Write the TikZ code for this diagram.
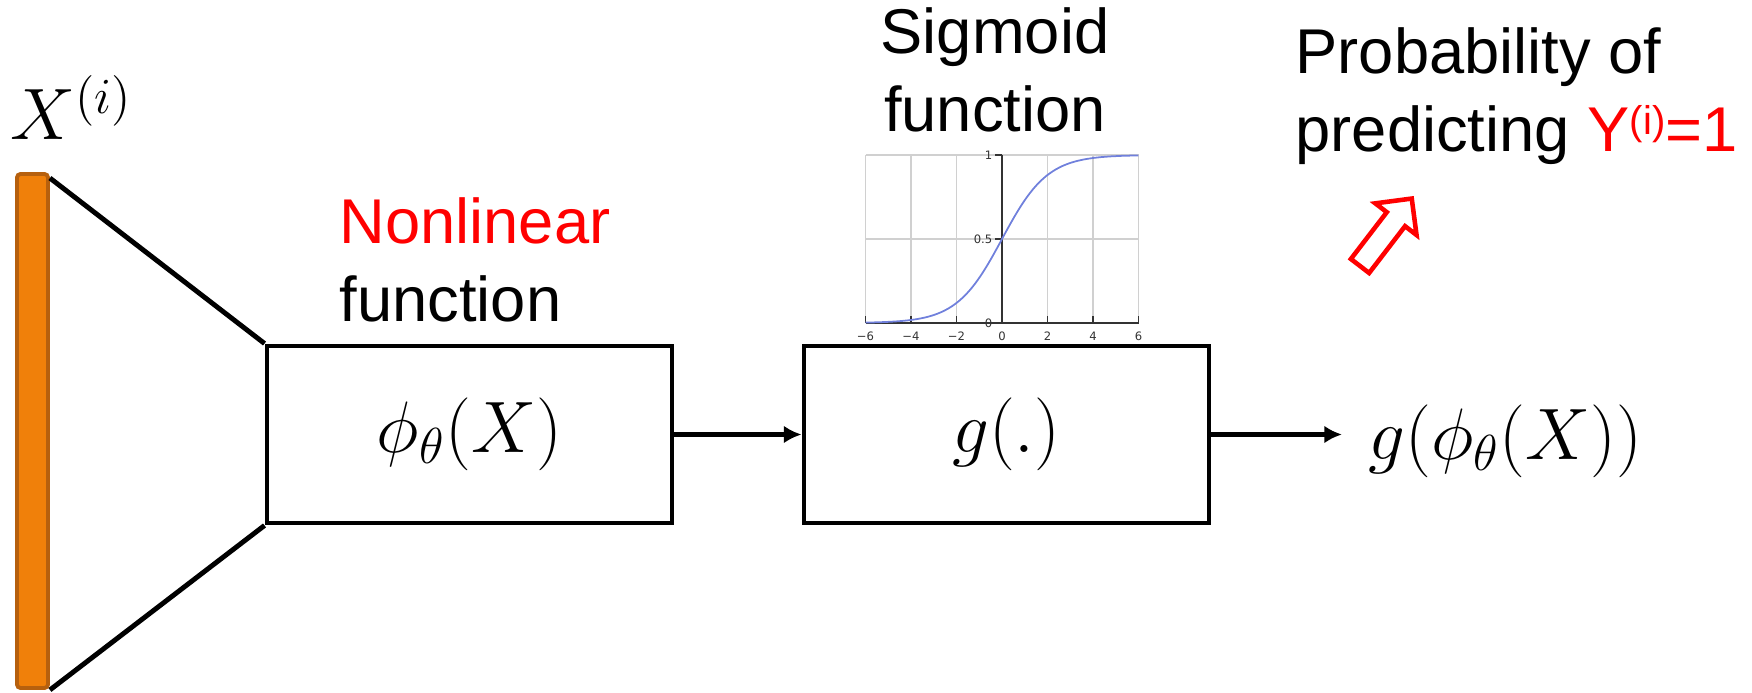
\documentclass[tikz,border=0pt]{standalone}
\usepackage[no-math]{fontspec}
\setmainfont{Liberation Sans}
\newfontfamily\plotfont{DejaVu Sans}
\usetikzlibrary{arrows.meta}

\definecolor{barfill}{RGB}{240,128,10}
\definecolor{barline}{RGB}{182,96,14}
\definecolor{curveblue}{RGB}{112,128,220}
\definecolor{gridgray}{RGB}{208,208,208}

\begin{document}
\begin{tikzpicture}[
	block/.style={draw, line width=1.4pt, minimum width=4.05cm, minimum height=1.77cm, inner sep=0pt, font=\fontsize{20}{24}\selectfont},
	flow/.style={-{Latex[length=5pt, width=5pt]}, line width=1.4pt},
	caption/.style={inner sep=0pt, align=left, font=\fontsize{18}{22.2}\selectfont},
	sggrid/.style={gridgray, line width=0.35pt},
	sgaxis/.style={black!80, line width=0.45pt},
	sglabel/.style={inner sep=0pt, font=\plotfont\fontsize{3.3}{4}\selectfont, text=black!80},
]
	\useasboundingbox (0, 0) rectangle (17.52, 6.93);

	%% input vector
	\node[draw=barline, fill=barfill, line width=1.1pt, rounded corners=1pt, minimum width=0.31cm, minimum height=5.14cm, inner sep=0pt] (bar) at (0.325, 2.62) {};
	\node[anchor=base west, inner sep=0pt, font=\fontsize{20}{24}\selectfont] (xin) at (0.10, 5.53) {$X^{(i)}$};

	%% blocks
	\node[block] (phi) at (4.695, 2.585) {$\phi_\theta(X)$};
	\node[block] (sig) at (10.065, 2.585) {$g(.)$};
	\node[anchor=base west, inner xsep=0.26cm, inner ysep=0pt, font=\fontsize{20}{24}\selectfont] (out) at (13.42, 2.33) {$g(\phi_\theta(X))$};

	%% connectors
	\draw[line width=1.4pt] ([yshift=-0.06cm]bar.north east) -- (phi.north west);
	\draw[line width=1.4pt] (bar.south east) -- (phi.south west);
	\draw[flow] (phi) -- (sig);
	\draw[flow] (sig.east) -- (sig.east -| out.west);

	%% captions (base = last line)
	\node[caption, anchor=base west] (nonlin) at (3.39, 3.71) {\textcolor{red}{Nonlinear}\\function};
	\node[caption, anchor=base, align=center] (sigtext) at (9.95, 5.61) {Sigmoid\\function};
	\node[caption, anchor=base west] (prob) at (12.95, 5.41) {Probability of\\predicting \textcolor{red}{Y\raisebox{5pt}{\fontsize{11.4}{12}\selectfont(i)}=1}};

	%% sigmoid plot
	\begin{scope}[shift={(10.02, 3.70)}, x=0.2275cm, y=1.68cm]
		\foreach \gx in {-6, -4, -2, 2, 4, 6}
			\draw[sggrid] (\gx, 0) -- (\gx, 1);
		\draw[sggrid] (-6, 0.5) -- (6, 0.5);
		\draw[sggrid] (-6, 1) -- (6, 1);
		\draw[sgaxis] (-6, 0) -- (6, 0);
		\draw[sgaxis] (0, 0) -- (0, 1);
		\foreach \gx/\gl [count=\gi] in {-6/−6, -4/−4, -2/−2, 0/0, 2/2, 4/4, 6/6} {
			\draw[sgaxis] (\gx, 0) -- ++(0, 0.07cm);
			\node[sglabel, anchor=north] (xl\gi) at ([yshift=-0.08cm]\gx, 0) {\gl};
		}
		\foreach \gy/\gl [count=\gi] in {0/0, 0.5/0.5, 1/1} {
			\draw[sgaxis] (0, \gy) -- ++(-0.07cm, 0);
			\node[sglabel, anchor=east] (yl\gi) at ([xshift=-0.09cm]0, \gy) {\gl};
		}
		\draw[curveblue, line width=0.5pt, domain=-6:6, samples=80, smooth] plot (\x, {1/(1+exp(-\x))});
	\end{scope}

	%% hollow arrow
	\begin{scope}[shift={(13.60, 4.27)}, rotate=52.5]
		\draw[red, line width=1.3pt] (0, -0.115) -- (0.59, -0.115) -- (0.59, -0.26) -- (0.85, 0) -- (0.59, 0.26) -- (0.59, 0.115) -- (0, 0.115) -- cycle;
	\end{scope}
\end{tikzpicture}
\end{document}
